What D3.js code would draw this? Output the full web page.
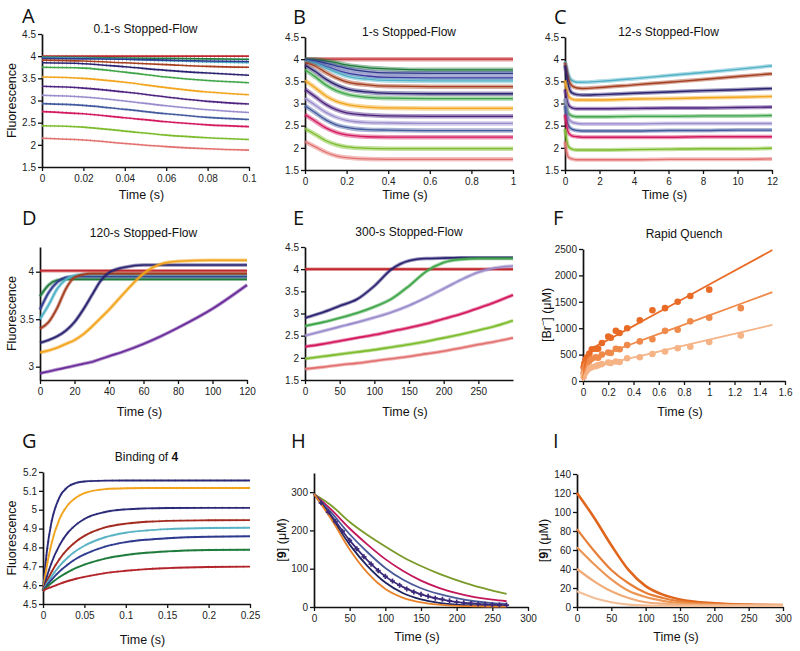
<!DOCTYPE html>
<html><head><meta charset="utf-8">
<script src="https://cdn.jsdelivr.net/npm/d3@7"></script>
<style>
body{margin:0;background:#fff;}
svg{display:block;font-family:"Liberation Sans",Arial,sans-serif;}
</style></head><body>
<svg id="chart" width="800" height="651"></svg>
<script>
// ================= DATA =================
// Panel A: 0.1-s stopped-flow
const timeA = [0,0.02,0.04,0.06,0.08,0.1];
const fluorA = [
 [4.00,4.00,4.00,4.00,4.00,4.00],
 [3.98,3.97,3.96,3.95,3.94,3.93],
 [3.97,3.96,3.93,3.90,3.87,3.85],
 [3.95,3.94,3.93,3.91,3.89,3.88],
 [3.91,3.89,3.85,3.81,3.77,3.75],
 [3.85,3.83,3.76,3.68,3.62,3.57],
 [3.75,3.73,3.64,3.53,3.45,3.40],
 [3.53,3.50,3.41,3.29,3.19,3.13],
 [3.32,3.28,3.19,3.08,2.98,2.92],
 [3.12,3.08,2.99,2.88,2.79,2.73],
 [2.93,2.89,2.80,2.70,2.62,2.57],
 [2.75,2.70,2.61,2.52,2.45,2.41],
 [2.43,2.40,2.31,2.22,2.16,2.12],
 [2.15,2.11,2.03,1.96,1.91,1.88]
];
// Panel B: 1-s stopped-flow
const timeB = [0,0.05,0.1,0.15,0.2,0.3,0.4,0.6,0.8,1.0];
const fluorB = [
 [4.00,4.00,4.00,4.00,4.00,4.00,4.00,4.00,4.00,4.00],
 [4.00,3.99,3.96,3.92,3.87,3.81,3.78,3.76,3.76,3.76],
 [3.98,3.96,3.91,3.85,3.79,3.72,3.69,3.68,3.68,3.68],
 [3.96,3.92,3.84,3.76,3.69,3.62,3.59,3.58,3.58,3.58],
 [3.95,3.90,3.80,3.70,3.62,3.55,3.52,3.51,3.51,3.51],
 [3.92,3.84,3.70,3.58,3.49,3.42,3.39,3.38,3.38,3.38],
 [3.86,3.72,3.55,3.42,3.33,3.26,3.23,3.22,3.22,3.22],
 [3.76,3.60,3.42,3.29,3.21,3.14,3.12,3.11,3.11,3.11],
 [3.52,3.35,3.17,3.05,2.98,2.92,2.90,2.89,2.89,2.89],
 [3.32,3.15,2.98,2.86,2.79,2.74,2.72,2.71,2.71,2.71],
 [3.12,2.96,2.80,2.69,2.62,2.57,2.56,2.55,2.55,2.55],
 [2.95,2.79,2.63,2.52,2.46,2.41,2.40,2.39,2.39,2.39],
 [2.75,2.60,2.45,2.35,2.29,2.25,2.24,2.24,2.24,2.24],
 [2.43,2.30,2.16,2.07,2.02,1.99,1.98,1.98,1.98,1.98],
 [2.14,2.02,1.90,1.82,1.78,1.75,1.74,1.74,1.74,1.74]
];
// Panel C: 12-s stopped-flow
const timeC = [0,0.1,0.2,0.4,0.7,1,2,4,6,8,10,12];
const fluorC = [
 [3.95,3.80,3.65,3.52,3.48,3.48,3.50,3.56,3.63,3.70,3.77,3.85],
 [3.92,3.72,3.55,3.40,3.35,3.34,3.36,3.42,3.48,3.54,3.61,3.67],
 [3.86,3.60,3.40,3.24,3.20,3.19,3.20,3.23,3.26,3.29,3.31,3.34],
 [3.52,3.30,3.17,3.10,3.08,3.08,3.08,3.10,3.11,3.13,3.14,3.16],
 [3.32,3.10,2.97,2.90,2.88,2.88,2.88,2.89,2.90,2.90,2.91,2.92],
 [3.10,2.90,2.78,2.72,2.70,2.70,2.70,2.71,2.71,2.72,2.72,2.73],
 [3.12,2.85,2.68,2.58,2.55,2.54,2.54,2.54,2.55,2.55,2.55,2.55],
 [2.95,2.65,2.50,2.42,2.39,2.38,2.38,2.38,2.39,2.39,2.40,2.40],
 [2.75,2.48,2.34,2.27,2.25,2.24,2.24,2.24,2.24,2.25,2.25,2.25],
 [2.43,2.17,2.03,1.97,1.95,1.95,1.95,1.96,1.97,1.98,1.98,1.99],
 [2.14,1.90,1.79,1.75,1.73,1.73,1.73,1.73,1.74,1.74,1.74,1.75]
];
// Panel D: 120-s stopped-flow
const timeD = [0,5,10,15,20,25,30,35,40,50,60,70,80,100,120];
const fluorD = [
 [4.01,4.01,4.01,4.01,4.01,4.01,4.01,4.01,4.01,4.01,4.01,4.01,4.01,4.01,4.01],
 [3.74,3.86,3.91,3.92,3.92,3.92,3.92,3.92,3.92,3.92,3.92,3.92,3.92,3.92,3.92],
 [3.60,3.78,3.89,3.94,3.95,3.95,3.95,3.95,3.95,3.95,3.95,3.95,3.95,3.95,3.95],
 [3.50,3.65,3.82,3.92,3.96,3.97,3.97,3.97,3.97,3.97,3.97,3.97,3.97,3.97,3.97],
 [3.40,3.47,3.62,3.82,3.94,3.97,3.98,3.98,3.98,3.98,3.98,3.98,3.98,3.98,3.98],
 [3.25,3.28,3.32,3.38,3.47,3.60,3.75,3.90,3.99,4.05,4.07,4.07,4.07,4.07,4.07],
 [3.15,3.17,3.20,3.24,3.28,3.34,3.42,3.51,3.60,3.80,3.98,4.08,4.11,4.12,4.12],
 [2.93,2.95,2.97,2.99,3.01,3.03,3.05,3.08,3.11,3.17,3.24,3.32,3.41,3.61,3.86]
];
// Panel E: 300-s stopped-flow
const timeE = [0,25,50,75,100,125,150,175,200,225,250,275,300];
const fluorE = [
 [4.00,4.00,4.00,4.00,4.00,4.00,4.00,4.00,4.00,4.00,4.00,4.00,4.00],
 [2.90,3.02,3.17,3.32,3.62,4.00,4.19,4.24,4.25,4.26,4.26,4.26,4.26],
 [2.72,2.80,2.90,3.01,3.15,3.33,3.62,3.95,4.15,4.22,4.24,4.24,4.24],
 [2.50,2.60,2.70,2.80,2.91,3.03,3.18,3.36,3.56,3.76,3.93,4.03,4.07],
 [2.25,2.31,2.38,2.45,2.52,2.60,2.68,2.77,2.88,2.99,3.12,3.26,3.42],
 [1.98,2.03,2.08,2.13,2.18,2.24,2.30,2.37,2.45,2.53,2.62,2.72,2.84],
 [1.75,1.79,1.84,1.88,1.93,1.98,2.03,2.09,2.15,2.22,2.30,2.37,2.45]
];
// Panel F: rapid quench [Br-] (uM)
const fitTimeF = [0,0.01,0.02,0.03,0.05,0.08,0.1,0.2,0.5,1.0,1.5];
const fitF = [
 [0,218,354,444,543,615,651,781,1173,1827,2480],
 [0,151,245,307,375,424,448,536,801,1242,1683],
 [0,93,150,189,230,261,276,332,501,782,1063]
];
const pointsTimeF = [0.005,0.01,0.02,0.03,0.05,0.07,0.1,0.12,0.15,0.2,0.22,0.26,0.29,0.35,0.45,0.55,0.65,0.75,0.85,1.0,1.25];
const pointsF = [
 [260,330,400,450,520,600,610,610,720,840,820,950,910,1000,1150,1340,1380,1500,1610,1730,null],
 [150,220,280,320,380,420,450,440,500,540,530,610,600,680,750,790,950,970,1130,1200,1380],
 [80,130,170,200,240,260,280,300,320,350,340,370,360,430,450,510,560,620,650,740,860]
];
// Panel G: binding of 4
const timeG = [0,0.005,0.01,0.02,0.03,0.04,0.05,0.075,0.1,0.125,0.15,0.2,0.25];
const fluorG = [
 [4.57,4.791,4.929,5.067,5.121,5.142,5.150,5.154,5.155,5.155,5.155,5.155,5.155],
 [4.57,4.711,4.816,4.951,5.025,5.065,5.088,5.109,5.114,5.115,5.115,5.115,5.115],
 [4.57,4.650,4.715,4.812,4.878,4.921,4.951,4.988,5.002,5.007,5.009,5.010,5.010],
 [4.57,4.622,4.667,4.739,4.792,4.832,4.861,4.906,4.926,4.936,4.941,4.944,4.945],
 [4.57,4.610,4.644,4.702,4.747,4.782,4.809,4.854,4.878,4.890,4.897,4.903,4.904],
 [4.57,4.600,4.627,4.673,4.710,4.740,4.763,4.804,4.828,4.841,4.849,4.857,4.859],
 [4.57,4.591,4.610,4.643,4.669,4.691,4.709,4.741,4.760,4.772,4.779,4.786,4.788],
 [4.57,4.581,4.590,4.607,4.622,4.634,4.644,4.664,4.676,4.685,4.690,4.696,4.698]
];
// Panel H: [9] (uM)
const timeH = [0,25,50,75,100,125,150,175,200,225,250,270];
const concH = [
 [295,264,222,188,158,130,107,87,70,55,43,34],
 [295,253,205,163,125,94,69,50,36,26,19,15],
 [295,245,190,143,102,71,49,34,23,15,10,8],
 [295,237,174,122,80,52,33,21,13,9,6,5],
 [295,232,163,107,64,36,20,11,6,4,2,2],
 [295,227,150,89,47,24,12,6,3,2,1,1]
];
const markTimeH = [10,20,30,40,50,60,70,80,90,100,110,120,130,140,150,160,170,180,190,200,210,220,230,240,250,260,270];
const markH = [272,248,223,198,174,152,131,112,95,80,68,57,47,39,33,28,23,20,16,13,11,9,8,7,6,5,5];
// Panel I: [9] (uM)
const timeI = [0,25,50,75,100,125,150,200,250,300];
const concI = [
 [120,94,65,39,22,13,8,4,2.5,2],
 [82,59,39,25,15,9.5,6,3,2.2,2],
 [63,45,29,17,10.5,6.5,4,2.2,2,2],
 [40,27,16.5,9.5,5,3.5,2.5,2,2,2],
 [16.5,9.5,5,2.5,1.5,1.3,1.2,1.2,1.2,1.2]
];
// Tick values
const ticksFluor = [1.5,2,2.5,3,3.5,4,4.5];
const ticksA = [0,0.02,0.04,0.06,0.08,0.1];
const ticksB = [0,0.2,0.4,0.6,0.8,1];
const ticksC = [0,2,4,6,8,10,12];
const ticksD = [0,20,40,60,80,100,120];
const ticksDy = [3,3.5,4];
const ticksE = [0,50,100,150,200,250];
const ticksFx = [0,0.2,0.4,0.6,0.8,1,1.2,1.4,1.6];
const ticksFy = [0,500,1000,1500,2000,2500];
const ticksGx = [0,0.05,0.1,0.15,0.2,0.25];
const ticksGy = [4.5,4.6,4.7,4.8,4.9,5,5.1,5.2];
const ticksHx = [0,50,100,150,200,250,300];
const ticksHy = [0,100,200,300];
const ticksIy = [0,20,40,60,80,100,120,140];

// ================= STYLES =================
const RED='#c1272d', DKGREEN='#1e7b3c', BLUE='#2e3a8e', CYAN='#4fb1c6', BROWN='#a53d1f',
      NAVY='#2a2270', GREEN='#3ea548', ORANGE='#f2a41c', PURPLE='#4e2380', LAVENDER='#9a8ccc',
      SLATE='#435a9e', MAGENTA='#d3185e', YGREEN='#7cbc2c', SALMON='#e2706e', VIOLET='#6a2c9a';
const colorsA=[RED,DKGREEN,CYAN,BLUE,BROWN,NAVY,GREEN,ORANGE,PURPLE,LAVENDER,SLATE,MAGENTA,YGREEN,SALMON];
const colorsB=[RED,DKGREEN,BLUE,'#3b3ea0',CYAN,BROWN,NAVY,GREEN,ORANGE,PURPLE,LAVENDER,SLATE,MAGENTA,YGREEN,SALMON];
const colorsC=[CYAN,BROWN,NAVY,ORANGE,PURPLE,GREEN,LAVENDER,SLATE,MAGENTA,YGREEN,SALMON];
const colorsD=[RED,DKGREEN,BLUE,CYAN,BROWN,NAVY,ORANGE,VIOLET];
const colorsE=[RED,NAVY,GREEN,LAVENDER,MAGENTA,YGREEN,SALMON];
const colorsF=['#e96b26','#ef8a4b','#f5b386'];
const colorsG=['#2b2a78',ORANGE,'#2b2a78','#a32a1f','#5ab3c4','#2e3a8e',DKGREEN,'#b3232a'];
const colorsH=['#7a9a2a','#c2185b','#4a5a9a','#3b2a7a','#1f2460','#e8822a'];
const colorsI=['#e0661d','#e77f38','#ec9656','#f0ab78','#f3bf98'];

// ================= DRAW =================
const svg = d3.select('#chart');
const fmt = d3.format('~g');

function panel(o){
  const x = d3.scaleLinear().domain(o.xDomain).range([o.left,o.right]);
  const y = d3.scaleLinear().domain(o.yDomain).range([o.bottom,o.top]);
  const g = svg.append('g');
  const gx = g.append('g').attr('transform',`translate(0,${o.bottom})`)
    .call(d3.axisBottom(x).tickValues(o.xTicks).tickFormat(fmt).tickSize(4).tickSizeOuter(0).tickPadding(4));
  const gy = g.append('g').attr('transform',`translate(${o.left},0)`)
    .call(d3.axisLeft(y).tickValues(o.yTicks).tickFormat(fmt).tickSize(4).tickSizeOuter(0).tickPadding(2));
  [gx,gy].forEach(a=>{
    a.attr('font-family','"Liberation Sans",Arial,sans-serif').attr('font-size',10);
    a.select('.domain').attr('stroke','#111').attr('stroke-width',1.7);
    a.selectAll('.tick line').attr('stroke','#111').attr('stroke-width',1.3);
    a.selectAll('.tick text').attr('fill','#222');
  });
  svg.append('text').attr('x',o.letterX).attr('y',o.letterY).text(o.letter)
    .attr('font-family','"Open Sans",sans-serif').attr('font-size',20).attr('fill','#111');
  if(o.title){
    const t = svg.append('text').attr('x',(o.left+o.right)/2).attr('y',o.titleY)
      .attr('text-anchor','middle').attr('font-size',12).attr('fill','#111');
    o.title(t);
  }
  svg.append('text').attr('x',(o.left+o.right)/2 - 4).attr('y',o.xLabelY).attr('text-anchor','middle')
    .attr('font-size',12.5).attr('fill','#111').text('Time (s)');
  if(o.yLabel){
    const cy=(o.top+o.bottom)/2;
    const t = svg.append('text').attr('transform',`translate(${o.yLabelX},${cy}) rotate(-90)`)
      .attr('text-anchor','middle').attr('font-size',12.5).attr('fill','#111');
    o.yLabel(t);
  }
  return {g,x,y};
}

function drawSeries(p, t, series, colors, opt){
  const line = d3.line().defined(d=>d[1]!=null).x(d=>p.x(d[0])).y(d=>p.y(d[1])).curve(d3.curveMonotoneX);
  series.forEach((s,i)=>{
    const pts = t.map((tt,j)=>[tt,s[j]]);
    if(opt.band){
      p.g.append('path').attr('d',line(pts)).attr('fill','none').attr('stroke',colors[i])
        .attr('stroke-width',opt.band).attr('stroke-opacity',opt.bandOpacity||0.55)
        .attr('stroke-dasharray',opt.dash||null);
    }
    p.g.append('path').attr('d',line(pts)).attr('fill','none').attr('stroke',colors[i])
      .attr('stroke-width',(opt.widths&&opt.widths[i])||opt.width||1.5);
  });
}

const textFluor = t=>t.text('Fluorescence');
const textConc9 = t=>{t.append('tspan').text('[');t.append('tspan').attr('font-weight','bold').text('9');t.append('tspan').text('] (μM)');};

// A
const pA = panel({left:42,right:249,top:34,bottom:167,xDomain:[0,0.1],yDomain:[1.5,4.5],xTicks:ticksA,yTicks:ticksFluor,
  letter:'A',letterX:22,letterY:23,titleY:33,title:t=>t.text('0.1-s Stopped-Flow'),xLabelY:199,yLabel:textFluor,yLabelX:16});
drawSeries(pA,timeA,fluorA,colorsA,{width:1.6,band:3,bandOpacity:0.35,dash:'1,3'});
// B
const pB = panel({left:305,right:513,top:37,bottom:170,xDomain:[0,1],yDomain:[1.5,4.5],xTicks:ticksB,yTicks:ticksFluor,
  letter:'B',letterX:293,letterY:24,titleY:36,title:t=>t.text('1-s Stopped-Flow'),xLabelY:199});
drawSeries(pB,timeB,fluorB,colorsB,{width:1.3,band:4.5,bandOpacity:0.45});
// C
const pC = panel({left:565,right:772,top:37,bottom:170,xDomain:[0,12],yDomain:[1.5,4.5],xTicks:ticksC,yTicks:ticksFluor,
  letter:'C',letterX:554,letterY:24,titleY:36,title:t=>t.text('12-s Stopped-Flow'),xLabelY:199});
drawSeries(pC,timeC,fluorC,colorsC,{width:1.4,band:4,bandOpacity:0.45});
// D
const pD = panel({left:40,right:247,top:247,bottom:380,xDomain:[0,120],yDomain:[2.86,4.26],xTicks:ticksD,yTicks:ticksDy,
  letter:'D',letterX:22,letterY:225,titleY:237,title:t=>t.text('120-s Stopped-Flow'),xLabelY:416,yLabel:textFluor,yLabelX:16});
drawSeries(pD,timeD,fluorD,colorsD,{width:1.6,band:3.5,bandOpacity:0.5});
// E
const pE = panel({left:305,right:513,top:247,bottom:380,xDomain:[0,300],yDomain:[1.5,4.5],xTicks:ticksE,yTicks:ticksFluor,
  letter:'E',letterX:293,letterY:225,titleY:236,title:t=>t.text('300-s Stopped-Flow'),xLabelY:416});
drawSeries(pE,timeE,fluorE,colorsE,{width:1.6,band:3.5,bandOpacity:0.5});
// F
const pF = panel({left:583,right:785,top:249,bottom:381,xDomain:[0,1.6],yDomain:[0,2500],xTicks:ticksFx,yTicks:ticksFy,
  letter:'F',letterX:553,letterY:225,titleY:238,title:t=>t.text('Rapid Quench'),xLabelY:416,
  yLabel:t=>{t.append('tspan').text('[Br');t.append('tspan').attr('baseline-shift','super').attr('font-size',9).text('−');t.append('tspan').text('] (μM)');},yLabelX:551});
pointsF.forEach((s,i)=>{
  pF.g.append('g').selectAll('circle').data(pointsTimeF.map((tt,j)=>[tt,s[j]]).filter(d=>d[1]!=null))
    .join('circle').attr('cx',d=>pF.x(d[0])).attr('cy',d=>pF.y(d[1])).attr('r',3.3).attr('fill',colorsF[i]);
});
drawSeries(pF,fitTimeF,fitF,colorsF,{width:1.8});
// G
const pG = panel({left:43,right:250,top:472,bottom:604,xDomain:[0,0.25],yDomain:[4.5,5.2],xTicks:ticksGx,yTicks:ticksGy,
  letter:'G',letterX:22,letterY:448,titleY:461,
  title:t=>{t.append('tspan').text('Binding of ');t.append('tspan').attr('font-weight','bold').text('4');},
  xLabelY:644,yLabel:textFluor,yLabelX:16});
drawSeries(pG,timeG,fluorG,colorsG,{width:1.9,band:3,bandOpacity:0.3,dash:'1,6'});
// H
const pH = panel({left:314,right:528,top:473,bottom:607,xDomain:[0,300],yDomain:[0,350],xTicks:ticksHx,yTicks:ticksHy,
  letter:'H',letterX:291,letterY:448,xLabelY:641,yLabel:textConc9,yLabelX:286});
drawSeries(pH,timeH,concH,colorsH,{width:1.8});
pH.g.append('g').selectAll('path').data(markTimeH.map((tt,j)=>[tt,markH[j]])).join('path')
  .attr('d',d3.symbol(d3.symbolCross,14)).attr('transform',d=>`translate(${pH.x(d[0])},${pH.y(d[1])})`)
  .attr('fill','#3b2a7a');
// I
const pI = panel({left:577,right:783,top:474,bottom:607,xDomain:[0,300],yDomain:[0,140],xTicks:ticksHx,yTicks:ticksIy,
  letter:'I',letterX:553,letterY:448,xLabelY:641,yLabel:textConc9,yLabelX:548});
drawSeries(pI,timeI,concI,colorsI,{widths:[2.6,2.2,2.2,2.2,2.2]});
</script>
</body></html>
